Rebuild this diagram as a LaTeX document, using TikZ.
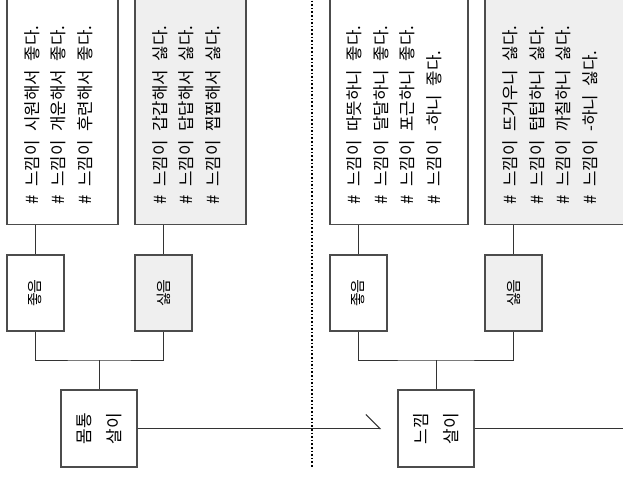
\documentclass[tikz,border=0pt]{standalone}
\usepackage{graphicx}
\usepackage{fontspec}
\setmainfont{Noto Sans CJK KR}[WordSpace=2.3]
\usetikzlibrary{positioning,arrows.meta}
\definecolor{boxgray}{HTML}{EFEFEF}

\begin{document}
\begin{tikzpicture}[
  x=1pt, y=1pt,
  bigbox/.style={rectangle, draw=black!70, fill=#1, minimum height=280pt, anchor=south, line width=1.1pt, inner sep=0pt},
  bigbox/.default=white,
  smallbox/.style={rectangle, draw=black!70, fill=#1, minimum width=57pt, minimum height=76pt, line width=1.1pt, inner sep=0pt, font=\fontsize{15}{18}\selectfont},
  smallbox/.default=white,
  rootbox/.style={rectangle, draw=black!70, fill=white, minimum width=76pt, minimum height=77pt, line width=1.1pt, inner sep=0pt, font=\fontsize{17}{30}\selectfont},
  vtext/.style={rotate=90, anchor=west, align=left, inner sep=0pt, font=\fontsize{16.8}{26.5}\selectfont},
  link/.style={draw=black!80, line width=1pt},
  halfarrow/.style={link, -{Straight Barb[left, length=14pt, width=28pt]}},
]
  \clip (0,0) rectangle (623,477);

  % Top row: description boxes
  \node[bigbox, minimum width=111pt] (bodygoodbox) at (62.5,252) {};
  \node[bigbox=boxgray, minimum width=111pt] (bodybadbox) at (190.5,252) {};
  \node[bigbox, minimum width=138pt] (feelgoodbox) at (399,252) {};
  \node[bigbox=boxgray, minimum width=140pt] (feelbadbox) at (555,252) {};

  \node[vtext] (bodygoodtxt) at ([xshift=-4pt, yshift=20pt]bodygoodbox.south) {\# 느낌이 시원해서 좋다.\\\# 느낌이 개운해서 좋다.\\\# 느낌이 후련해서 좋다.};
  \node[vtext] (bodybadtxt) at ([xshift=-4pt, yshift=20pt]bodybadbox.south) {\# 느낌이 갑갑해서 싫다.\\\# 느낌이 답답해서 싫다.\\\# 느낌이 찝찝해서 싫다.};
  \node[vtext] (feelgoodtxt) at ([xshift=-5pt, yshift=20pt]feelgoodbox.south) {\# 느낌이 따뜻하니 좋다.\\\# 느낌이 달달하니 좋다.\\\# 느낌이 포근하니 좋다.\\\# 느낌이 -하니 좋다.};
  \node[vtext] (feelbadtxt) at ([xshift=-5pt, yshift=20pt]feelbadbox.south) {\# 느낌이 뜨거우니 싫다.\\\# 느낌이 텁텁하니 싫다.\\\# 느낌이 까칠하니 싫다.\\\# 느낌이 -하니 싫다.};

  % Middle row: like / dislike
  \node[smallbox] (bodygood) at (35.5,184) {\rotatebox{90}{좋음}};
  \node[smallbox=boxgray] (bodybad) at (163.5,184) {\rotatebox{90}{싫음}};
  \node[smallbox] (feelgood) at (358.5,184) {\rotatebox{90}{좋음}};
  \node[smallbox=boxgray] (feelbad) at (513.5,184) {\rotatebox{90}{싫음}};

  % Bottom row
  \node[rootbox] (body) at (99,48.5) {\rotatebox{90}{\begin{tabular}{@{}c@{}}몸통\\살이\end{tabular}}};
  \node[rootbox] (feel) at (436,48.5) {\rotatebox{90}{\begin{tabular}{@{}c@{}}느낌\\살이\end{tabular}}};

  \coordinate (bodyjoin) at (99,117);
  \coordinate (feeljoin) at (436,117);
  \coordinate (bodyend) at (381,48.5);
  \coordinate (feelend) at (630,48.5);
  \coordinate (septop) at (312,480);
  \coordinate (sepbot) at (312,10);

  % Connectors
  \draw[link] (bodygood.north) -- (bodygood.north |- bodygoodbox.south);
  \draw[link] (bodybad.north) -- (bodybad.north |- bodybadbox.south);
  \draw[link] (feelgood.north) -- (feelgood.north |- feelgoodbox.south);
  \draw[link] (feelbad.north) -- (feelbad.north |- feelbadbox.south);
  \draw[link] (bodygood.south) |- (bodyjoin) -| (bodybad.south);
  \draw[link] (feelgood.south) |- (feeljoin) -| (feelbad.south);
  \draw[link] (bodyjoin) -- (body.north);
  \draw[link] (feeljoin) -- (feel.north);
  \draw[halfarrow] (body.east) -- (bodyend);
  \draw[link] (feel.east) -- (feelend);

  % Separator
  \draw[black, line width=1.6pt, dotted] (septop) -- (sepbot);
\end{tikzpicture}
\end{document}
